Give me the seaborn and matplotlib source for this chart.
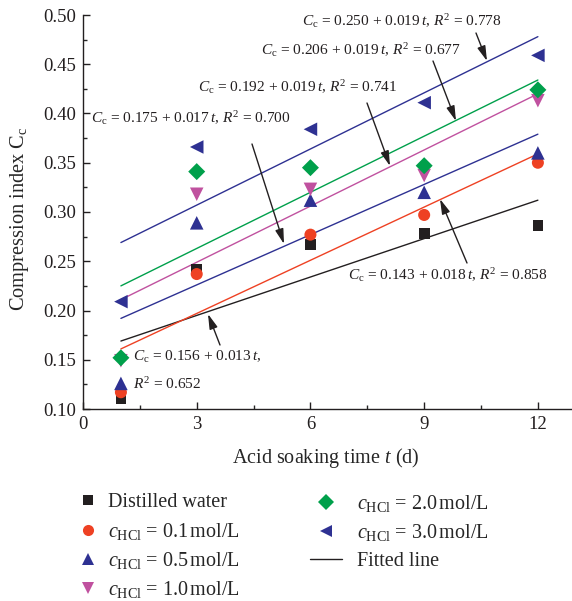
import numpy as np
import pandas as pd
import matplotlib
matplotlib.use("Agg")
import matplotlib.pyplot as plt
from matplotlib.lines import Line2D
import seaborn as sns

sns.set_style("ticks")
plt.rcParams['font.family'] = ['Liberation Serif', 'DejaVu Serif']
plt.rcParams['mathtext.fontset'] = 'custom'
plt.rcParams['mathtext.rm'] = 'Liberation Serif'
plt.rcParams['mathtext.it'] = 'Liberation Serif:italic'
plt.rcParams['mathtext.bf'] = 'Liberation Serif:bold'

# ---- data ----
times = [1, 3, 6, 9, 12]
groups = ["Distilled water", "0.1", "0.5", "1.0", "2.0", "3.0"]
cc_water = [0.111, 0.242, 0.267, 0.278, 0.286]
cc_01 = [0.117, 0.237, 0.277, 0.297, 0.350]
cc_05 = [0.126, 0.289, 0.312, 0.320, 0.360]
cc_10 = [0.149, 0.318, 0.323, 0.337, 0.413]
cc_20 = [0.152, 0.341, 0.345, 0.347, 0.424]
cc_30 = [0.209, 0.366, 0.384, 0.411, 0.459]
intercepts = [0.156, 0.143, 0.175, 0.192, 0.206, 0.250]
slopes = [0.013, 0.018, 0.017, 0.019, 0.019, 0.019]
r2 = [0.652, 0.858, 0.700, 0.741, 0.677, 0.778]
fit_range = [1, 12]

colors = ["#231F20", "#EE4123", "#2E3192", "#C0519F", "#00A04B", "#2E3192"]
markers = ["s", "o", "^", "v", "D", "<"]
sizes = [60, 75, 95, 95, 75, 95]

series = [cc_water, cc_01, cc_05, cc_10, cc_20, cc_30]
df = pd.DataFrame({
    "t": np.tile(times, len(groups)),
    "Cc": np.concatenate(series),
    "group": np.repeat(groups, len(times)),
})
fit_df = pd.DataFrame({
    "t": np.tile(fit_range, len(groups)),
    "Cc": np.concatenate([[a + b * x for x in fit_range] for a, b in zip(intercepts, slopes)]),
    "group": np.repeat(groups, len(fit_range)),
})

fig = plt.figure(figsize=(5.72, 6.01), dpi=100)
ax = fig.add_axes([83 / 572, 1 - 409 / 601, 1 - 83 / 572, (409 - 15) / 601])

palette = dict(zip(groups, colors))
sns.lineplot(data=fit_df, x="t", y="Cc", hue="group", palette=palette, ax=ax,
             legend=False, linewidth=1.0, estimator=None, sort=False)
for g, m, s, c in zip(groups, markers, sizes, colors):
    sub = df[df["group"] == g]
    sns.scatterplot(data=sub, x="t", y="Cc", marker=m, s=s, color=c,
                    edgecolor="none", ax=ax, legend=False, zorder=3)

ax.set_xlim(0, 12.9)
ax.set_ylim(0.10, 0.50)
ax.set_xticks([0, 3, 6, 9, 12])
ax.set_xticks([1.5, 4.5, 7.5, 10.5], minor=True)
ax.set_yticks(np.arange(0.10, 0.501, 0.05))
ax.set_yticks(np.arange(0.125, 0.5, 0.05), minor=True)
ax.set_yticklabels([f"{v:.2f}" for v in np.arange(0.10, 0.501, 0.05)])
ax.tick_params(axis="both", which="major", direction="in", length=5, width=1,
               labelsize=13.5, colors="#231F20", pad=5)
ax.tick_params(axis="both", which="minor", direction="in", length=3, width=1)
for sp in ["top", "right"]:
    ax.spines[sp].set_visible(False)
for sp in ["left", "bottom"]:
    ax.spines[sp].set_linewidth(1.0)
    ax.spines[sp].set_color("#231F20")

ax.set_xlabel(r"Acid soaking time $t$ (d)", fontsize=14.5)
ax.set_ylabel(r"Compression index C$_\mathrm{c}$", fontsize=14.7)
ax.xaxis.set_label_coords((326 - 83) / 489, -(458 - 409) / 394)
ax.xaxis.label.set_va("center")
ax.yaxis.set_label_coords(-(83 - 20) / 489, (409 - 219) / 394)
ax.yaxis.label.set_va("center")

# ---- annotations ----
def eq(a, b, r):
    return (r"$C_\mathrm{c}$ = " + f"{a:.3f} + {b:.3f}" + r"$\,t$, $R^2$ = " + f"{r:.3f}")

def px(x, y):
    return (x / 572, 1 - y / 601)

fs = 11.1
ann = [
    (5, (402, 21), (476, 33), (487, 61)),
    (4, (361, 50), (433, 61), (456, 121)),
    (3, (298, 87), (367, 103), (390, 166)),
    (2, (191, 118), (252, 144), (284, 244)),
    (1, (448, 275), (467, 263), (440, 199)),
]
arrow_kw = dict(arrowstyle="-|>,head_length=0.9,head_width=0.25", color="#231F20",
                lw=1.0, mutation_scale=10, shrinkA=0, shrinkB=0)
for i, tp, s0, s1 in ann:
    fig.text(*px(*tp), eq(intercepts[i], slopes[i], r2[i]), ha="center", va="center",
             fontsize=fs, color="#231F20")
    ax.annotate("", xy=px(*s1), xycoords="figure fraction",
                xytext=px(*s0), textcoords="figure fraction", arrowprops=arrow_kw)
fig.text(*px(133, 357), r"$C_\mathrm{c}$ = " + f"{intercepts[0]:.3f} + {slopes[0]:.3f}" + r"$\,t$,",
         ha="left", va="center", fontsize=fs, color="#231F20")
fig.text(*px(133, 384), r"$R^2$ = " + f"{r2[0]:.3f}", ha="left", va="center",
         fontsize=fs, color="#231F20")
ax.annotate("", xy=px(208, 314), xycoords="figure fraction",
            xytext=px(220, 345), textcoords="figure fraction", arrowprops=arrow_kw)

# ---- legend ----
labels = ["Distilled water"] + [r"$c_\mathrm{HCl}$ = " + g + r"$\,$mol/L" for g in groups[1:]]
handles = [Line2D([], [], linestyle="none", marker=m, color=c,
                  markersize={"s": 7, "o": 8, "D": 8}.get(m, 9), markeredgewidth=0)
           for m, c in zip(markers, colors)]
handles.append(Line2D([], [], color="#231F20", lw=1.0))
labels.append("Fitted line")
leg_kw = dict(loc="upper left", frameon=False, fontsize=14.5, handlelength=1.6,
              labelspacing=0.42, borderaxespad=0, borderpad=0)
leg1 = fig.legend(handles[:4], labels[:4], bbox_to_anchor=px(72, 493),
                  handletextpad=0.2, **leg_kw)
leg2 = fig.legend(handles[4:], labels[4:], bbox_to_anchor=px(310, 493),
                  handletextpad=0.75, **leg_kw)

fig.savefig("out.png", dpi=100)
